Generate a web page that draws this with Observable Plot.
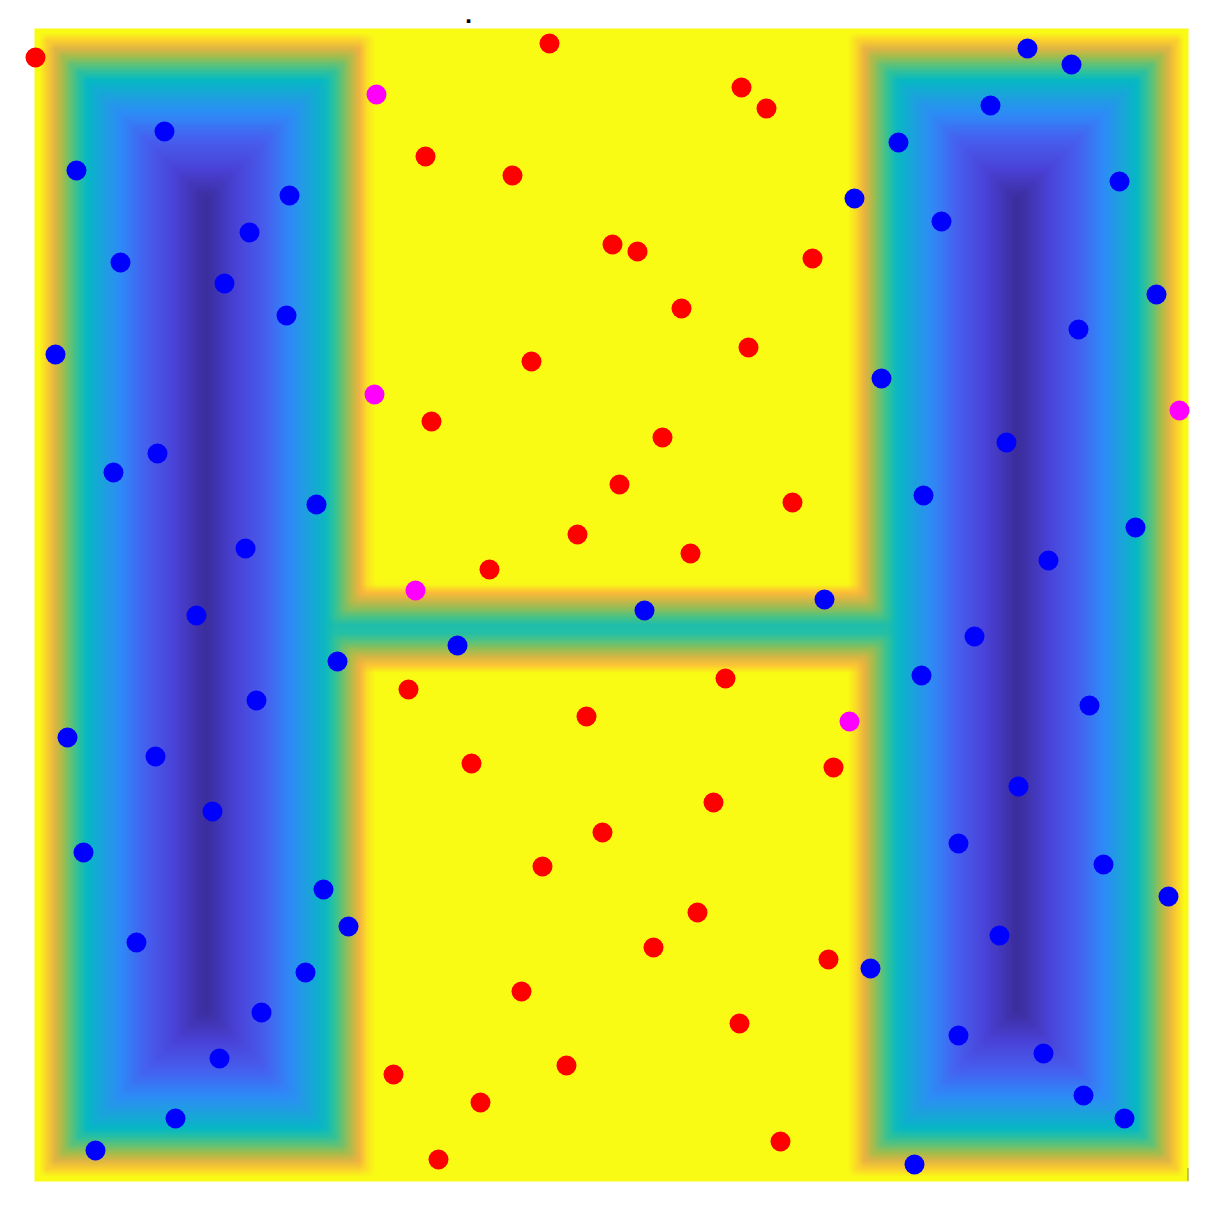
<!DOCTYPE html>
<html>
<head>
<meta charset="utf-8">
<style>html,body{margin:0;padding:0;background:#fff}svg{display:block}</style>
<script src="https://cdn.jsdelivr.net/npm/d3@7"></script>
<script src="https://cdn.jsdelivr.net/npm/@observablehq/plot@0.6"></script>
</head>
<body>
<div id="chart"></div>
<script>
const redX = [1,515,707,732,391,478,578,603,778,647,714,497,397,628,585,758,543,656,455,374,691,552,437,799,679,568,508,663,619,794,487,705,532,359,446,746,404];
const redY = [1124,1138,1094,1073,1025,1006,937,930,923,873,834,820,760,744,697,679,647,628,612,492,503,465,418,414,379,349,315,269,234,222,190,158,116,107,79,40,22];
const blueX = [130,42,255,215,86,190,252,21,123,79,282,211,162,303,222,33,121,178,49,289,314,102,271,227,185,141,61,610,423,790,993,1037,956,864,820,1085,907,1122,1044,847,972,889,1101,1014,940,887,1055,984,924,1069,1134,965,836,924,1009,1049,1090,880];
const blueY = [1050,1011,986,949,919,898,866,827,728,709,677,633,566,520,481,444,425,370,329,292,255,239,209,169,123,63,31,571,536,582,1133,1117,1076,1039,983,1000,960,887,852,803,739,686,654,621,545,506,476,395,338,317,285,246,213,146,128,86,63,17];
const magentaX = [342,340,1145,381,815];
const magentaY = [1087,787,771,591,460];

// The H-shaped region in data units: [x0, x1, y0, y1]
const leftBar = [0, 342, 0, 1153];
const rightBar = [811, 1154, 0, 1153];
const crossBar = [0, 1154, 503, 603];
const hRegion = [leftBar, rightBar, crossBar];

// Colour at each depth inside the region
const depthStops = [0, 6, 16, 28, 40, 52, 70, 85, 110, 140, 172];
const depthColors = ["#f9fb15","#f9fb15","#feb13e","#a3bd4c","#3cc48e","#06b8c4","#1f9fe0","#2d8cf8","#4660f0","#4a42d8","#3a2c98"];

const depth = (x, y) => Math.max(0, ...hRegion.map(([a, b, c, d]) => Math.min(x - a, b - x, y - c, d - y)));

const points = (xs, ys) => xs.map((x, i) => ({x, y: ys[i]}));

const plot = Plot.plot({
  width: 1230, height: 1222,
  marginLeft: 34, marginRight: 42, marginTop: 28, marginBottom: 41,
  x: {domain: [0, 1154], axis: null},
  y: {domain: [0, 1153], axis: null},
  color: {type: "linear", domain: depthStops, range: depthColors},
  style: {background: "#fff"},
  marks: [
    Plot.raster({x1: 0, x2: 1154, y1: 0, y2: 1153, pixelSize: 8, fill: depth}),
    Plot.ruleX([1153.5], {y1: 0, y2: 13, stroke: "#8a8a60", strokeWidth: 1}),
    Plot.dot(points(redX, redY), {x: "x", y: "y", r: 10, fill: "#ff0000"}),
    Plot.dot(points(blueX, blueY), {x: "x", y: "y", r: 10, fill: "#0000ff"}),
    Plot.dot(points(magentaX, magentaY), {x: "x", y: "y", r: 10, fill: "#ff00ff"}),
    Plot.text(["."], {x: () => 434, y: () => 1153, dy: -6, text: d => d, fontSize: 20, fontWeight: "bold", fontFamily: "DejaVu Sans", fill: "#000", lineAnchor: "bottom"})
  ]
});
document.getElementById("chart").append(plot);
</script>
</body>
</html>
